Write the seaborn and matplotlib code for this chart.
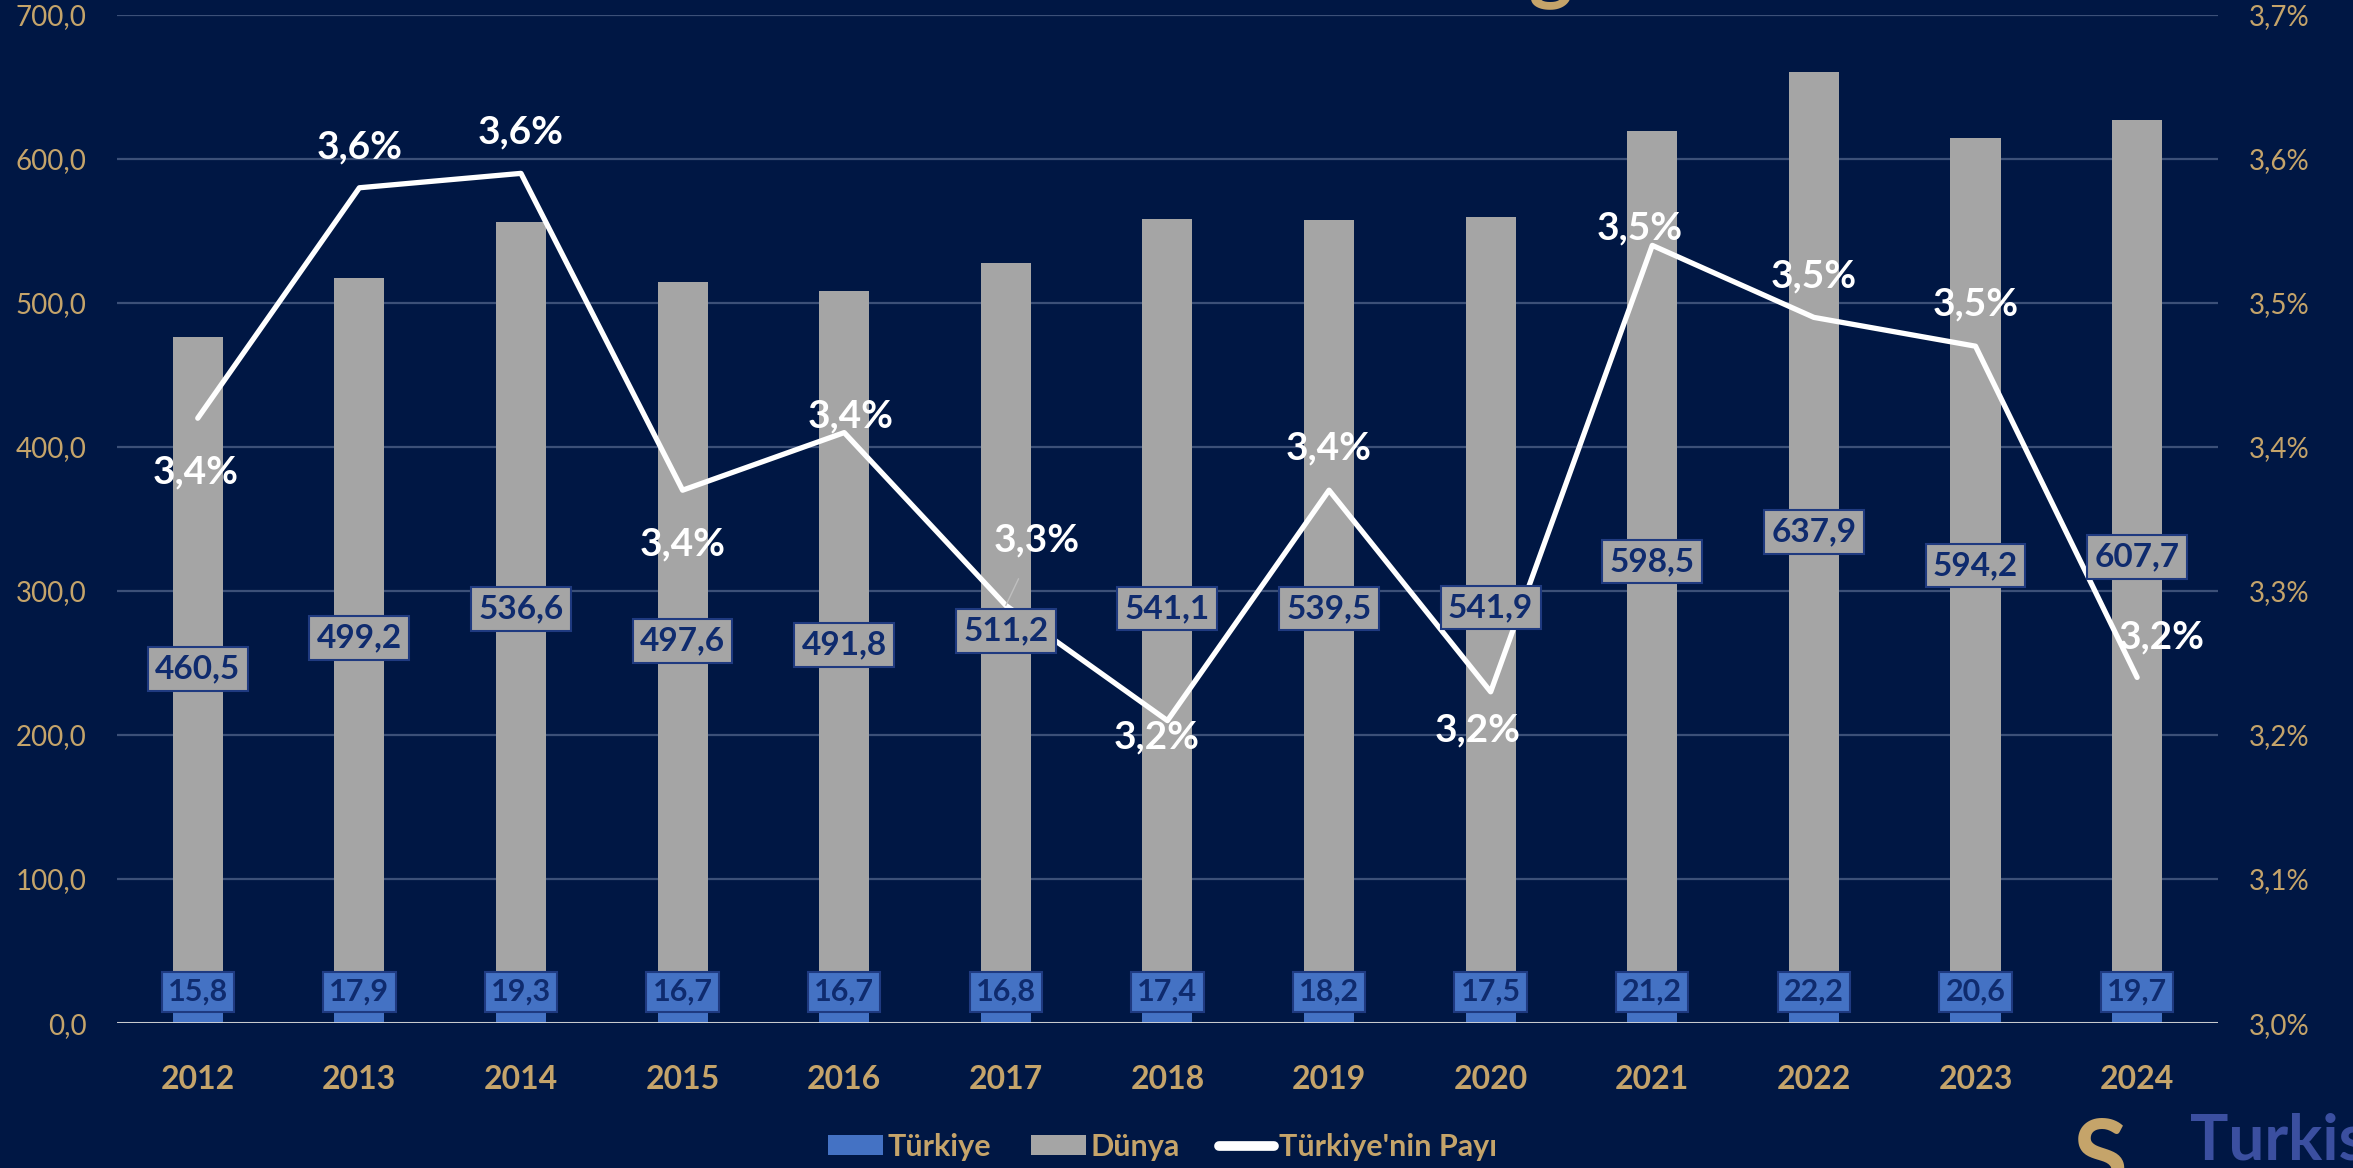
import numpy as np
import pandas as pd
import matplotlib.pyplot as plt
import seaborn as sns
from matplotlib.patches import Patch
from matplotlib.lines import Line2D

# veriler
years = ['2012', '2013', '2014', '2015', '2016', '2017', '2018',
         '2019', '2020', '2021', '2022', '2023', '2024']
turkiye = [15.8, 17.9, 19.3, 16.7, 16.7, 16.8, 17.4, 18.2, 17.5, 21.2, 22.2, 20.6, 19.7]
dunya = [460.5, 499.2, 536.6, 497.6, 491.8, 511.2, 541.1, 539.5, 541.9, 598.5, 637.9, 594.2, 607.7]
# Türkiye'nin payı (%)
pay = [3.42, 3.58, 3.59, 3.37, 3.41, 3.29, 3.21, 3.37, 3.23, 3.54, 3.49, 3.47, 3.24]
pay_labels = ['3,4%', '3,6%', '3,6%', '3,4%', '3,4%', '3,3%', '3,2%',
              '3,4%', '3,2%', '3,5%', '3,5%', '3,5%', '3,2%']

# etiket kaydirmalari (piksel)
pay_offsets = [(-2, -54), (0, 41), (0, 41), (0, -54), (6, 17), (31, 65), (-11, -16),
               (0, 42), (-13, -38), (-13, 17), (0, 41), (0, 42), (25, 40)]

navy = '#001744'
gold = '#C5A46A'
grey = '#A5A5A5'
blue = '#4472C4'
label_navy = '#0F2B6E'
box_edge = '#1F3A80'

sns.set_style('dark', rc={'axes.facecolor': navy, 'figure.facecolor': navy})
plt.rcParams['font.family'] = ['Lato', 'DejaVu Sans']

df = pd.DataFrame({'yil': years,
                   'turkiye': turkiye,
                   'dunya': dunya})
df['toplam'] = df['turkiye'] + df['dunya']

fig = plt.figure(figsize=(23.53, 11.68), dpi=100)
ax = fig.add_axes([0.0497, 0.1241, 0.8929, 0.8631])
ax.set_facecolor(navy)

# yigilmis cubuklar: gri toplam, altta mavi Türkiye
sns.barplot(data=df, x='yil', y='toplam', color=grey, width=0.31,
            saturation=1, ax=ax, zorder=2, edgecolor='none', linewidth=0)
sns.barplot(data=df, x='yil', y='turkiye', color=blue, width=0.31,
            saturation=1, ax=ax, zorder=2, edgecolor='none', linewidth=0)

ax.set_xlim(-0.5, 12.5)
ax.set_ylim(0, 700)
ax.set_yticks(np.arange(0, 701, 100))
ax.set_yticklabels([f'{v:.1f}'.replace('.', ',') for v in np.arange(0, 701, 100)])
ax.grid(axis='y', color='#3C5078', lw=1.6, zorder=0)
ax.grid(axis='x', visible=False)
ax.set_axisbelow(True)
ax.axhline(0, color='#D9D9D9', lw=2, zorder=3)
for s in ax.spines.values():
    s.set_visible(False)
ax.set_xlabel('')
ax.set_ylabel('')
ax.tick_params(axis='y', length=0, colors=gold, labelsize=20, pad=22)
ax.tick_params(axis='x', length=0, colors=gold, labelsize=23, pad=30)
for t in ax.get_xticklabels():
    t.set_fontweight('bold')

# pay cizgisi ikinci eksende
ax2 = ax.twinx()
x = np.arange(len(years))
sns.lineplot(x=x, y=pay, ax=ax2, color='white', lw=3.8, zorder=3)
ax2.set_ylim(3.0, 3.7)
ticks2 = np.round(np.arange(3.0, 3.71, 0.1), 1)
ax2.set_yticks(ticks2)
ax2.set_yticklabels([f'{v:.1f}%'.replace('.', ',') for v in ticks2])
ax2.tick_params(axis='y', length=0, colors=gold, labelsize=20, pad=22)
ax2.grid(False)
for s in ax2.spines.values():
    s.set_visible(False)
ax2.set_ylabel('')

# cubuk etiketleri (cizginin onunde)
for i in range(len(years)):
    mid = turkiye[i] + dunya[i] / 2
    ax2.annotate(f'{dunya[i]:.1f}'.replace('.', ','), xy=(i, mid), xycoords=ax.transData,
                 ha='center', va='center', fontsize=24, fontweight='bold', color=label_navy,
                 bbox=dict(boxstyle='square,pad=0.22', fc=grey, ec=box_edge, lw=1.5), zorder=5)
    ax2.annotate(f'{turkiye[i]:.1f}'.replace('.', ','), xy=(i, 0), xycoords=ax.transData,
                 xytext=(0, 31), textcoords='offset pixels',
                 ha='center', va='center', fontsize=22, fontweight='bold', color=label_navy,
                 bbox=dict(boxstyle='square,pad=0.2', fc=blue, ec=box_edge, lw=1.5), zorder=5)

# pay etiketleri
for i in range(len(years)):
    dx, dy = pay_offsets[i]
    kw = {}
    if i == 5:
        kw['arrowprops'] = dict(arrowstyle='-', color='#BFBFBF', lw=1, shrinkA=14, shrinkB=26)
    ax2.annotate(pay_labels[i], xy=(i, pay[i]), xytext=(dx, dy), textcoords='offset pixels',
                 ha='center', va='center', fontsize=28, fontweight='bold', color='white',
                 zorder=6, **kw)

# lejant
handles = [Patch(facecolor=blue, edgecolor='none', label='Türkiye'),
           Patch(facecolor=grey, edgecolor='none', label='Dünya'),
           Line2D([0], [0], color='white', lw=7, label="Türkiye'nin Payı")]
fig.legend(handles=handles, loc='center', bbox_to_anchor=(0.494, 0.018), ncol=3,
           frameon=False, prop={'size': 22, 'weight': 'bold'}, labelcolor=gold,
           handlelength=1.8, handleheight=0.65, handletextpad=0.15, columnspacing=1.3)

# kesilmis baslik ve logo parcasi
fig.text(1551 / 2353, 1 + 6 / 1168, 'g', color=gold, fontsize=60, fontweight='bold',
         ha='center', va='baseline')
fig.text(2073 / 2353, 1 - 1117 / 1168, 'S', color=gold, fontsize=72, fontweight='bold',
         ha='left', va='top')
fig.text(2190 / 2353, 1 - 1160 / 1168, 'Turkish', color='#3B4FA0', fontsize=46,
         fontweight='bold', ha='left', va='baseline')

fig.savefig('out.png', dpi=100, facecolor=navy)
